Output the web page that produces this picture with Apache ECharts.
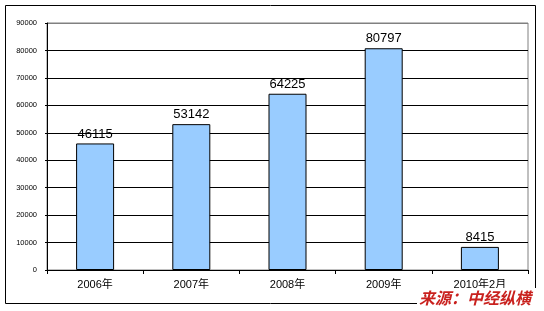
<!DOCTYPE html>
<html>
<head>
<meta charset="utf-8">
<script src="https://cdn.jsdelivr.net/npm/echarts@6/dist/echarts.min.js"></script>
<style>
html,body{margin:0;padding:0;background:#fff;}
#c{width:544px;height:311px;}
</style>
</head>
<body>
<div id="c"></div>
<script>
var categories = ['2006年', '2007年', '2008年', '2009年', '2010年2月'];
var values = [46115, 53142, 64225, 80797, 8415];
var yTicks = [0, 10000, 20000, 30000, 40000, 50000, 60000, 70000, 80000, 90000];
var sourceText = '来源：中经纵横';

var chart = echarts.init(document.getElementById('c'), null, {renderer: 'canvas'});
var splitColors = yTicks.map(function (v, i) { return i === yTicks.length - 1 ? '#808080' : '#000'; });

chart.setOption({
  animation: false,
  backgroundColor: '#fff',
  grid: {left: 47, top: 23, right: 16, bottom: 41, show: true, borderColor: '#808080', borderWidth: 1, backgroundColor: 'transparent'},
  xAxis: {
    type: 'category',
    data: categories,
    axisLine: {lineStyle: {color: '#000', width: 1}},
    axisTick: {show: true, length: 4, lineStyle: {color: '#000'}},
    axisLabel: {color: '#000', fontSize: 11, fontFamily: 'Liberation Sans, Noto Sans CJK SC', margin: 9}
  },
  yAxis: {
    type: 'value',
    min: yTicks[0],
    max: yTicks[yTicks.length - 1],
    interval: 10000,
    axisLine: {show: true, lineStyle: {color: '#000', width: 1}},
    axisTick: {show: true, length: 2, lineStyle: {color: '#000'}},
    axisLabel: {color: '#000', fontSize: 7.5, fontFamily: 'Liberation Sans', margin: 10,
      formatter: function (v) { return String(v); }},
    splitLine: {show: true, lineStyle: {color: splitColors, width: 1}}
  },
  series: [{
    type: 'bar',
    data: values,
    barWidth: 38,
    itemStyle: {color: '#99CCFF', borderColor: '#000', borderWidth: 1},
    label: {show: true, position: 'top', distance: 3, color: '#000', fontSize: 13, fontFamily: 'Liberation Sans'}
  }],
  graphic: [
    {type: 'rect', shape: {x: 5.5, y: 5.5, width: 530, height: 298}, style: {fill: 'none', stroke: '#000', lineWidth: 1}, z: 100},
    {type: 'rect', shape: {x: 417, y: 288, width: 127, height: 23}, style: {fill: '#fff'}, z: 101},
    {type: 'text', x: 419, y: 290, style: {text: sourceText, fill: '#c9211e', font: 'italic bold 16px "Noto Sans CJK SC"'}, z: 102}
  ]
});
</script>
</body>
</html>
